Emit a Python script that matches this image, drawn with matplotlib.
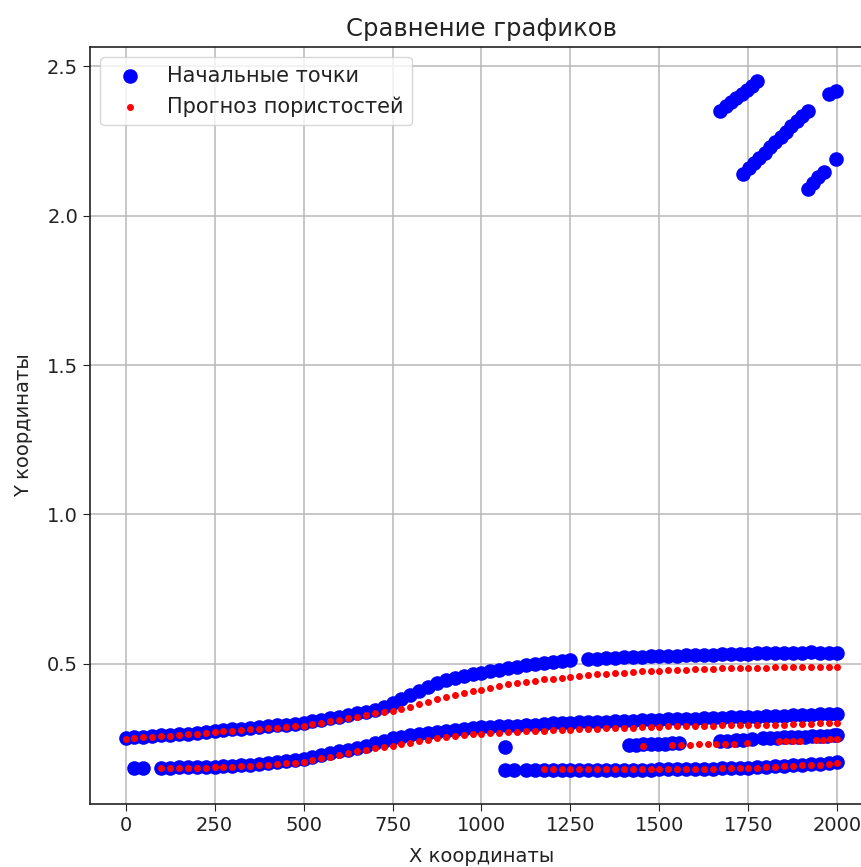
import numpy as np
import matplotlib
matplotlib.use("Agg")
import matplotlib.pyplot as plt

# Regular sampling grid along the profile for the two main horizons
grid_x = np.arange(0, 2001, 25)

upper_initial = [
    0.252, 0.254, 0.256, 0.258, 0.260, 0.262, 0.264, 0.266, 0.269, 0.272,
    0.275, 0.277, 0.280, 0.282, 0.285, 0.288, 0.290, 0.293, 0.296, 0.299,
    0.302, 0.307, 0.312, 0.318, 0.323, 0.329, 0.334, 0.339, 0.346, 0.356,
    0.368, 0.382, 0.396, 0.410, 0.423, 0.435, 0.446, 0.453, 0.459, 0.465,
    0.470, 0.475, 0.480, 0.485, 0.490, 0.494, 0.498, 0.503, 0.507, 0.510,
    0.513, np.nan, 0.515, 0.517, 0.519, 0.520, 0.521, 0.522, 0.523, 0.524,
    0.525, 0.526, 0.527, 0.528, 0.528, 0.529, 0.530, 0.531, 0.532, 0.533,
    0.533, 0.534, 0.534, 0.534, 0.535, 0.535, 0.536, 0.538, 0.537, 0.535,
    0.534,
]

upper_forecast = [
    0.249, 0.251, 0.253, 0.255, 0.257, 0.259, 0.261, 0.263, 0.266, 0.268,
    0.271, 0.273, 0.276, 0.278, 0.280, 0.282, 0.284, 0.286, 0.288, 0.290,
    0.292, 0.297, 0.302, 0.307, 0.312, 0.318, 0.323, 0.329, 0.335, 0.338,
    0.342, 0.349, 0.356, 0.364, 0.373, 0.381, 0.389, 0.395, 0.401, 0.407,
    0.413, 0.419, 0.425, 0.431, 0.436, 0.440, 0.443, 0.447, 0.450, 0.453,
    0.456, 0.459, 0.462, 0.464, 0.466, 0.468, 0.470, 0.472, 0.474, 0.476,
    0.477, 0.478, 0.479, 0.480, 0.481, 0.482, 0.483, 0.484, 0.485, 0.486,
    0.486, 0.487, 0.487, 0.488, 0.488, 0.489, 0.489, 0.490, 0.490, 0.490,
    0.490,
]

lower_initial = [
    np.nan, 0.151, 0.151, np.nan, 0.152, 0.152, 0.153, 0.153, 0.154, 0.154,
    0.155, 0.156, 0.158, 0.160, 0.162, 0.164, 0.167, 0.170, 0.173, 0.177,
    0.182, 0.188, 0.194, 0.200, 0.206, 0.212, 0.218, 0.225, 0.233, 0.242,
    0.250, 0.256, 0.261, 0.265, 0.268, 0.272, 0.276, 0.279, 0.282, 0.285,
    0.288, 0.289, 0.290, 0.291, 0.292, 0.294, 0.296, 0.298, 0.300, 0.301,
    0.302, 0.303, 0.304, 0.305, 0.306, 0.307, 0.308, 0.309, 0.310, 0.311,
    0.312, 0.313, 0.314, 0.315, 0.316, 0.317, 0.318, 0.319, 0.320, 0.321,
    0.322, 0.323, 0.324, 0.325, 0.326, 0.327, 0.328, 0.329, 0.330, 0.331,
    0.332,
]

lower_forecast = [
    np.nan, np.nan, np.nan, np.nan, 0.150, 0.150, 0.151, 0.151, 0.152, 0.152,
    0.153, 0.154, 0.155, 0.157, 0.158, 0.160, 0.162, 0.164, 0.166, 0.168,
    0.171, 0.177, 0.183, 0.189, 0.195, 0.201, 0.207, 0.212, 0.218, 0.222,
    0.225, 0.230, 0.235, 0.240, 0.245, 0.250, 0.254, 0.257, 0.260, 0.263,
    0.265, 0.267, 0.269, 0.271, 0.272, 0.273, 0.274, 0.276, 0.277, 0.278,
    0.279, 0.280, 0.281, 0.282, 0.283, 0.284, 0.285, 0.286, 0.287, 0.288,
    0.289, 0.290, 0.290, 0.291, 0.291, 0.292, 0.292, 0.293, 0.293, 0.294,
    0.294, 0.295, 0.295, 0.296, 0.296, 0.297, 0.298, 0.299, 0.300, 0.301,
    0.302,
]

# Thin bottom layer on the right part of the profile
bottom_x = [1065, 1090, 1125, 1150, 1175, 1200, 1225, 1250, 1275, 1300,
            1325, 1350, 1375, 1400, 1425, 1450, 1475, 1500, 1525, 1550,
            1575, 1600, 1625, 1650, 1675, 1700, 1725, 1750, 1775, 1800,
            1825, 1850, 1875, 1900, 1925, 1950, 1975, 2000]
bottom_initial = [0.145, 0.145, 0.145, 0.145, 0.145, 0.145, 0.145, 0.145, 0.145, 0.145,
                  0.145, 0.145, 0.145, 0.145, 0.145, 0.145, 0.145, 0.146, 0.146, 0.146,
                  0.147, 0.147, 0.148, 0.148, 0.149, 0.150, 0.151, 0.152, 0.153, 0.155,
                  0.156, 0.158, 0.159, 0.161, 0.163, 0.165, 0.168, 0.170]
bottom_forecast = [np.nan, np.nan, np.nan, np.nan, 0.146, 0.146, 0.146, 0.146, 0.146, 0.146,
                   0.146, 0.146, 0.146, 0.146, 0.146, 0.146, 0.146, 0.147, 0.147, 0.147,
                   0.147, 0.148, 0.148, 0.148, 0.149, 0.150, 0.150, 0.151, 0.152, 0.153,
                   0.155, 0.156, 0.157, 0.159, 0.160, 0.162, 0.164, 0.166]

# Intermediate layer, broken into pieces
mid_x = [1415, 1435, 1455, 1475, 1495, 1515, 1535, 1555, 1670, 1690,
         1715, 1735, 1760, 1790, 1810, 1830, 1850, 1870, 1890, 1910,
         1930, 1950, 1970, 1990, 2000]
mid_initial = [0.228, 0.229, 0.230, 0.231, 0.231, 0.232, 0.233, 0.234, 0.240, 0.241,
               0.243, 0.244, 0.246, 0.250, 0.251, 0.252, 0.253, 0.254, 0.255, 0.256,
               0.257, 0.258, 0.259, 0.261, 0.262]
mid_forecast_x = [1455, 1535, 1560, 1585, 1610, 1635, 1660, 1685, 1710, 1745,
                  1835, 1855, 1875, 1895, 1940, 1960, 1980, 2000]
mid_forecast = [0.225, 0.228, 0.229, 0.229, 0.230, 0.230, 0.231, 0.231, 0.232, 0.233,
                0.240, 0.240, 0.241, 0.241, 0.244, 0.245, 0.246, 0.248]

# Isolated initial point
single_x = [1067]
single_initial = [0.221]

# High-value initial points in the upper right corner
high_x = [1671, 1686, 1701, 1716, 1731, 1746, 1761, 1775,
          1736, 1751, 1766, 1781, 1796, 1811, 1826, 1841, 1856, 1871, 1886, 1901, 1916,
          1916, 1931, 1946, 1961,
          1975, 1997,
          1997]
high_initial = [2.352, 2.366, 2.380, 2.394, 2.408, 2.422, 2.436, 2.450,
                2.141, 2.159, 2.176, 2.194, 2.211, 2.229, 2.246, 2.264, 2.282, 2.299, 2.317, 2.334, 2.352,
                2.091, 2.110, 2.129, 2.148,
                2.409, 2.419,
                2.191]

x_ticks = [0, 250, 500, 750, 1000, 1250, 1500, 1750, 2000]

init_x = np.concatenate([grid_x, grid_x, bottom_x, mid_x, single_x, high_x])
init_y = np.concatenate([upper_initial, lower_initial, bottom_initial, mid_initial,
                         single_initial, high_initial])
pred_x = np.concatenate([grid_x, grid_x, bottom_x, mid_forecast_x])
pred_y = np.concatenate([upper_forecast, lower_forecast, bottom_forecast, mid_forecast])

fig = plt.figure(figsize=(8.62, 8.67), dpi=100)
ax = fig.add_axes([90 / 862, 63 / 867, 783 / 862, 757 / 867])

ax.scatter(init_x, init_y, s=90, color="blue", label="Начальные точки", zorder=2)
ax.scatter(pred_x, pred_y, s=16, color="red", label="Прогноз пористостей", zorder=3)

ax.set_xlim(-100, 2100)
ax.set_ylim(0.03, 2.565)
ax.set_xticks(x_ticks)
ax.tick_params(labelsize=14, length=5, colors="#222222", labelcolor="#222222")
ax.grid(True, color="#b8b8b8", linewidth=1.1)
ax.set_axisbelow(True)
for sp in ax.spines.values():
    sp.set_linewidth(1.2)
    sp.set_color("#222222")

ax.set_title("Сравнение графиков", fontsize=17.5, pad=8, color="#222222")
ax.set_xlabel("X координаты", fontsize=14, color="#222222", labelpad=9)
ax.set_ylabel("Y координаты", fontsize=14, color="#222222", labelpad=10)
leg = ax.legend(loc="upper left", fontsize=15, markerscale=1.0)
for t in leg.get_texts():
    t.set_color("#222222")

fig.savefig("out.png", dpi=100)
